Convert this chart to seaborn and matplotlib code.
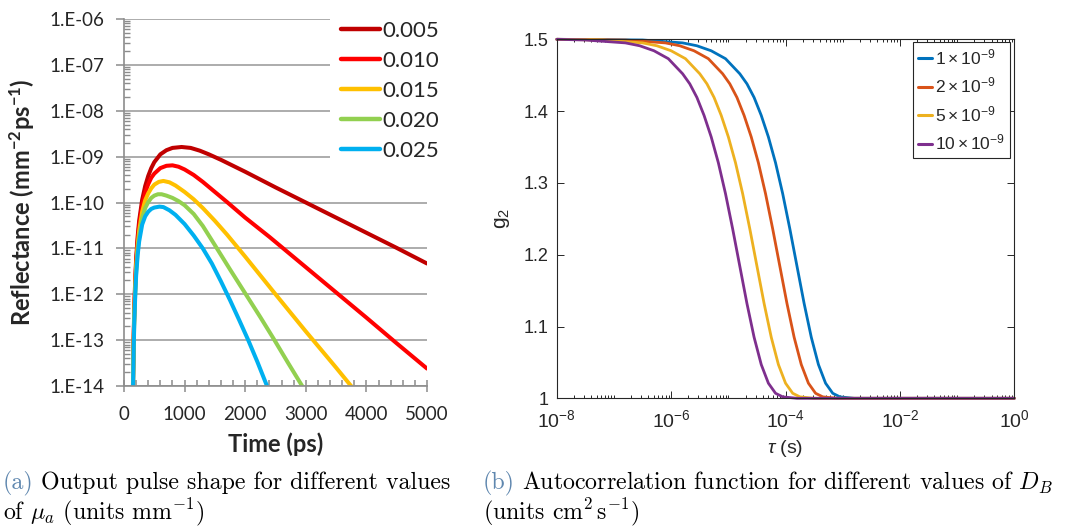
import numpy as np
import pandas as pd
import matplotlib
matplotlib.use("Agg")
import matplotlib.pyplot as plt
import matplotlib.ticker as mticker
from matplotlib.lines import Line2D
import seaborn as sns

# ---- (a) output pulse shape (log10 reflectance) ----
mua_labels = ["0.005", "0.010", "0.015", "0.020", "0.025"]
mua_colors = ["#C00000", "#FF0000", "#FFC000", "#92D050", "#00B0F0"]

t_005 = [140, 150, 160, 170, 185, 200, 225, 250, 300, 350, 400, 450, 500, 600, 700, 800, 950, 1100, 1250, 1400,
         1600, 1800, 2000, 2500, 3000, 3500, 4000, 4500, 5000]
logR_005 = [-15, -13.72, -12.9, -12.28, -11.7, -11.24, -10.75, -10.4, -9.94, -9.64, -9.42, -9.25, -9.12, -8.95,
            -8.86, -8.81, -8.79, -8.81, -8.87, -8.95, -9.07, -9.2, -9.33, -9.67, -10.0, -10.33, -10.66, -10.99, -11.33]

t_010 = [140, 150, 160, 170, 185, 200, 225, 250, 300, 350, 400, 450, 500, 600, 700, 800, 900, 1000, 1150, 1300,
         1500, 1700, 2000, 2400, 2700, 3000, 3500, 4000, 4500, 5000]
logR_010 = [-15, -13.79, -12.98, -12.36, -11.8, -11.33, -10.85, -10.5, -10.06, -9.78, -9.6, -9.46, -9.37, -9.25,
            -9.2, -9.19, -9.22, -9.28, -9.4, -9.55, -9.77, -9.99, -10.33, -10.75, -11.08, -11.41, -11.96, -12.51,
            -13.07, -13.62]

t_015 = [140, 150, 160, 170, 185, 200, 225, 250, 300, 350, 400, 450, 500, 575, 650, 750, 850, 1000, 1150, 1300,
         1500, 1700, 2000, 2500, 3000, 3500, 3760]
logR_015 = [-15, -13.86, -13.05, -12.44, -11.88, -11.42, -10.95, -10.62, -10.2, -9.95, -9.8, -9.69, -9.61, -9.55,
            -9.53, -9.56, -9.63, -9.77, -9.93, -10.12, -10.4, -10.7, -11.18, -12.0, -12.81, -13.6, -14.02]

t_020 = [140, 150, 160, 170, 185, 200, 225, 250, 300, 350, 400, 450, 500, 560, 620, 700, 800, 900, 1000, 1150, 1300,
         1500, 1750, 2000, 2250, 2460, 2700, 2940]
logR_020 = [-15, -13.93, -13.1, -12.52, -11.96, -11.51, -11.05, -10.73, -10.34, -10.12, -9.99, -9.9, -9.85, -9.82,
            -9.82, -9.85, -9.9, -9.97, -10.06, -10.25, -10.51, -10.93, -11.46, -11.98, -12.5, -12.95, -13.48, -14.0]

t_025 = [140, 150, 160, 170, 185, 200, 225, 250, 300, 350, 400, 450, 500, 585, 650, 750, 850, 1000, 1150, 1300, 1450,
         1600, 1750, 1900, 2050, 2200, 2360]
logR_025 = [-15, -14.0, -13.2, -12.6, -12.05, -11.6, -11.15, -10.85, -10.48, -10.3, -10.2, -10.14, -10.11, -10.09,
            -10.1, -10.17, -10.27, -10.47, -10.72, -11.0, -11.33, -11.72, -12.13, -12.56, -13.0, -13.47, -14.0]

# ---- (b) autocorrelation g2 (log10 tau) ----
db_labels = [r"$1\times10^{-9}$", r"$2\times10^{-9}$", r"$5\times10^{-9}$", r"$10\times10^{-9}$"]
db_colors = ["#0072BD", "#D95319", "#EDB120", "#7E2F8E"]

logtau_1 = [-8, -6.5, -5.8, -5.55, -5.3, -5.05, -4.8, -4.675, -4.55, -4.425, -4.3, -4.175, -4.05, -3.925, -3.8,
            -3.675, -3.55, -3.425, -3.3, -3.175, -3.05, -2.8, 0]
logtau_2 = [-8, -6.8, -6.1, -5.85, -5.6, -5.35, -5.1, -4.975, -4.85, -4.725, -4.6, -4.475, -4.35, -4.225, -4.1,
            -3.975, -3.85, -3.725, -3.6, -3.475, -3.35, -3.1, 0]
logtau_5 = [-8, -7.2, -6.5, -6.25, -6.0, -5.75, -5.5, -5.375, -5.25, -5.125, -5.0, -4.875, -4.75, -4.625, -4.5,
            -4.375, -4.25, -4.125, -4.0, -3.875, -3.75, -3.5, 0]
logtau_10 = [-8, -7.5, -6.8, -6.55, -6.3, -6.05, -5.8, -5.675, -5.55, -5.425, -5.3, -5.175, -5.05, -4.925, -4.8,
             -4.675, -4.55, -4.425, -4.3, -4.175, -4.05, -3.8, 0]
g2_1 = [1.5, 1.499, 1.495, 1.491, 1.484, 1.473, 1.452, 1.438, 1.419, 1.394, 1.364, 1.328, 1.285, 1.236, 1.184,
        1.132, 1.085, 1.047, 1.021, 1.007, 1.002, 1.0, 1.0]
g2_2 = [1.5, 1.499, 1.495, 1.491, 1.484, 1.473, 1.452, 1.438, 1.419, 1.394, 1.364, 1.328, 1.285, 1.236, 1.184,
        1.132, 1.085, 1.047, 1.021, 1.007, 1.002, 1.0, 1.0]
g2_5 = [1.5, 1.499, 1.495, 1.491, 1.484, 1.473, 1.452, 1.438, 1.419, 1.394, 1.364, 1.328, 1.285, 1.236, 1.184,
        1.132, 1.085, 1.047, 1.021, 1.007, 1.002, 1.0, 1.0]
g2_10 = [1.5, 1.499, 1.495, 1.491, 1.484, 1.473, 1.452, 1.438, 1.419, 1.394, 1.364, 1.328, 1.285, 1.236, 1.184,
         1.132, 1.085, 1.047, 1.021, 1.007, 1.002, 1.0, 1.0]

# long-form tables for seaborn
df_a = pd.concat([
    pd.DataFrame({"Time": t, "Reflectance": 10.0 ** np.array(lr), "mua": lab})
    for t, lr, lab in zip([t_005, t_010, t_015, t_020, t_025],
                          [logR_005, logR_010, logR_015, logR_020, logR_025], mua_labels)
], ignore_index=True)
df_b = pd.concat([
    pd.DataFrame({"tau": 10.0 ** np.array(lt), "g2": g, "DB": lab})
    for lt, g, lab in zip([logtau_1, logtau_2, logtau_5, logtau_10], [g2_1, g2_2, g2_5, g2_10], db_labels)
], ignore_index=True)

sns.set_theme(style="white")
plt.rcParams["mathtext.fontset"] = "custom"
plt.rcParams["mathtext.rm"] = "Liberation Sans"
plt.rcParams["mathtext.it"] = "Liberation Sans:italic"
plt.rcParams["mathtext.bf"] = "Lato:bold"

W, H = 1072, 527
fig = plt.figure(figsize=(W / 100, H / 100), dpi=100)

# ---------------- panel (a) ----------------
ax1 = fig.add_axes([124 / W, 1 - 386 / H, 303 / W, 367 / H])
ax1.set_yscale("log")
sns.lineplot(data=df_a, x="Time", y="Reflectance", hue="mua", hue_order=mua_labels,
             palette=dict(zip(mua_labels, mua_colors)), estimator=None, lw=2.9,
             solid_capstyle="round", legend=False, ax=ax1)
ax1.set_xlim(0, 5000)
ax1.set_ylim(1e-14, 1e-6)
grey = "#8C8C8C"
for s in ["top", "right"]:
    ax1.spines[s].set_visible(False)
for s in ["left", "bottom"]:
    ax1.spines[s].set_color(grey)
    ax1.spines[s].set_linewidth(1.2)
ax1.yaxis.grid(True, which="major", color="#A6A6A6", lw=1.3)
ax1.set_axisbelow(True)
ax1.xaxis.set_major_locator(mticker.MultipleLocator(1000))
ax1.xaxis.set_minor_locator(mticker.MultipleLocator(200))
ax1.yaxis.set_major_locator(mticker.LogLocator(base=10, numticks=20))
ax1.yaxis.set_minor_locator(mticker.LogLocator(base=10, subs=np.arange(2, 10), numticks=20))
ax1.yaxis.set_minor_formatter(mticker.NullFormatter())
ax1.yaxis.set_major_formatter(mticker.FuncFormatter(lambda v, p: "1.E%03d" % int(round(np.log10(v)))))
ax1.tick_params(which="major", axis="x", direction="inout", length=9, width=1.1, color=grey, pad=10)
ax1.tick_params(which="minor", axis="x", direction="in", length=4, width=1.1, color=grey)
ax1.tick_params(which="major", axis="y", direction="out", length=6, width=1.1, color=grey, pad=8)
ax1.tick_params(which="minor", axis="y", direction="in", length=4, width=1.0, color=grey)
ax1.tick_params(which="both", bottom=True, left=True, labelsize=13.5, labelcolor="#262626")
for lab in ax1.get_xticklabels() + ax1.get_yticklabels():
    lab.set_family("Lato")
ax1.set_xlabel("Time (ps)", family="Lato", fontweight="bold", fontsize=17, color="#262626", labelpad=7)
ax1.set_ylabel(r"Reflectance (mm$^{\mathbf{-2}}$ps$^{\mathbf{-1}}$)", family="Lato", fontweight="bold",
               fontsize=17, color="#262626", labelpad=9)
handles_a = [Line2D([], [], color=c, lw=3.2, solid_capstyle="round") for c in mua_colors]
leg1 = ax1.legend(handles_a, mua_labels, loc="upper left", bbox_to_anchor=(330 / W, 1 - 10 / H),
                  bbox_transform=fig.transFigure, frameon=True, fancybox=False, framealpha=1,
                  facecolor="white", edgecolor="none", borderpad=0.5, borderaxespad=0,
                  handlelength=1.75, handletextpad=0.1, labelspacing=0.45,
                  prop={"family": "Lato", "size": 16})
for txt in leg1.get_texts():
    txt.set_color("#262626")

# ---------------- panel (b) ----------------
ax2 = fig.add_axes([556.8 / W, 1 - 398.3 / H, 457.5 / W, 359 / H])
ax2.set_xscale("log")
sns.lineplot(data=df_b, x="tau", y="g2", hue="DB", hue_order=db_labels,
             palette=dict(zip(db_labels, db_colors)), estimator=None, lw=2.0,
             legend=False, clip_on=False, ax=ax2)
ax2.set_xlim(1e-8, 1)
ax2.set_ylim(1, 1.5)
for s in ax2.spines.values():
    s.set_color("#262626")
    s.set_linewidth(0.8)
    s.set_visible(True)
ax2.xaxis.set_major_locator(mticker.FixedLocator([1e-8, 1e-6, 1e-4, 1e-2, 1]))
ax2.xaxis.set_minor_locator(mticker.LogLocator(base=10, subs=np.arange(1, 10), numticks=100))
ax2.xaxis.set_major_formatter(mticker.LogFormatterMathtext())
ax2.xaxis.set_minor_formatter(mticker.NullFormatter())
ax2.yaxis.set_major_locator(mticker.MultipleLocator(0.1))
ax2.yaxis.set_major_formatter(mticker.FuncFormatter(lambda v, p: "%g" % round(v, 1)))
ax2.tick_params(which="both", direction="in", top=True, right=True, bottom=True, left=True,
                color="#262626", width=0.7)
ax2.tick_params(which="major", length=5, labelsize=13, labelcolor="#262626")
ax2.tick_params(which="major", axis="x", labelsize=14, pad=8)
ax2.tick_params(which="major", axis="y", pad=6)
ax2.tick_params(which="minor", length=2.5)
for lab in ax2.get_xticklabels() + ax2.get_yticklabels():
    lab.set_family("Liberation Sans")
ax2.set_xlabel(r"$\tau$ (s)", family="Liberation Sans", fontsize=14, color="#262626", labelpad=5)
ax2.set_ylabel(r"g$_2$", family="Liberation Sans", fontsize=15, color="#262626", labelpad=8)
handles_b = [Line2D([], [], color=c, lw=2.2) for c in db_colors]
leg2 = ax2.legend(handles_b, db_labels, loc="upper right", bbox_to_anchor=(1010.3 / W, 1 - 42 / H),
                  bbox_transform=fig.transFigure, frameon=True, fancybox=False, framealpha=1,
                  facecolor="white", edgecolor="#262626", borderpad=0.3, borderaxespad=0,
                  handlelength=0.75, handletextpad=0.2, labelspacing=0.5,
                  prop={"family": "Liberation Sans", "size": 12.5})
leg2.get_frame().set_linewidth(0.8)

# ---------------- captions ----------------
cap_col = "#5F87AF"
cap_kw = dict(family="cmr10", fontsize=17.2, math_fontfamily="cm", va="center", ha="left")
ta = fig.text(3 / W, 1 - 483 / H, "(a)", color=cap_col, **cap_kw)
fig.text(3 / W, 1 - 512 / H, r"of $\mu_a$ (units mm$^{-1}$)", color="black", **cap_kw)
tb = fig.text(483 / W, 1 - 483 / H, "(b)", color=cap_col, **cap_kw)
fig.text(483 / W, 1 - 512 / H, r"(units cm$^2\,$s$^{-1}$)", color="black", **cap_kw)
for t_obj, rest in [(ta, "Output pulse shape for different values"),
                    (tb, r"Autocorrelation function for different values of $D_B$")]:
    fig.add_artist(plt.Annotation(rest, xy=(1, 0.5), xycoords=t_obj, xytext=(5, 0),
                                  textcoords="offset points", color="black", **cap_kw))

fig.savefig("out.png", dpi=100)
